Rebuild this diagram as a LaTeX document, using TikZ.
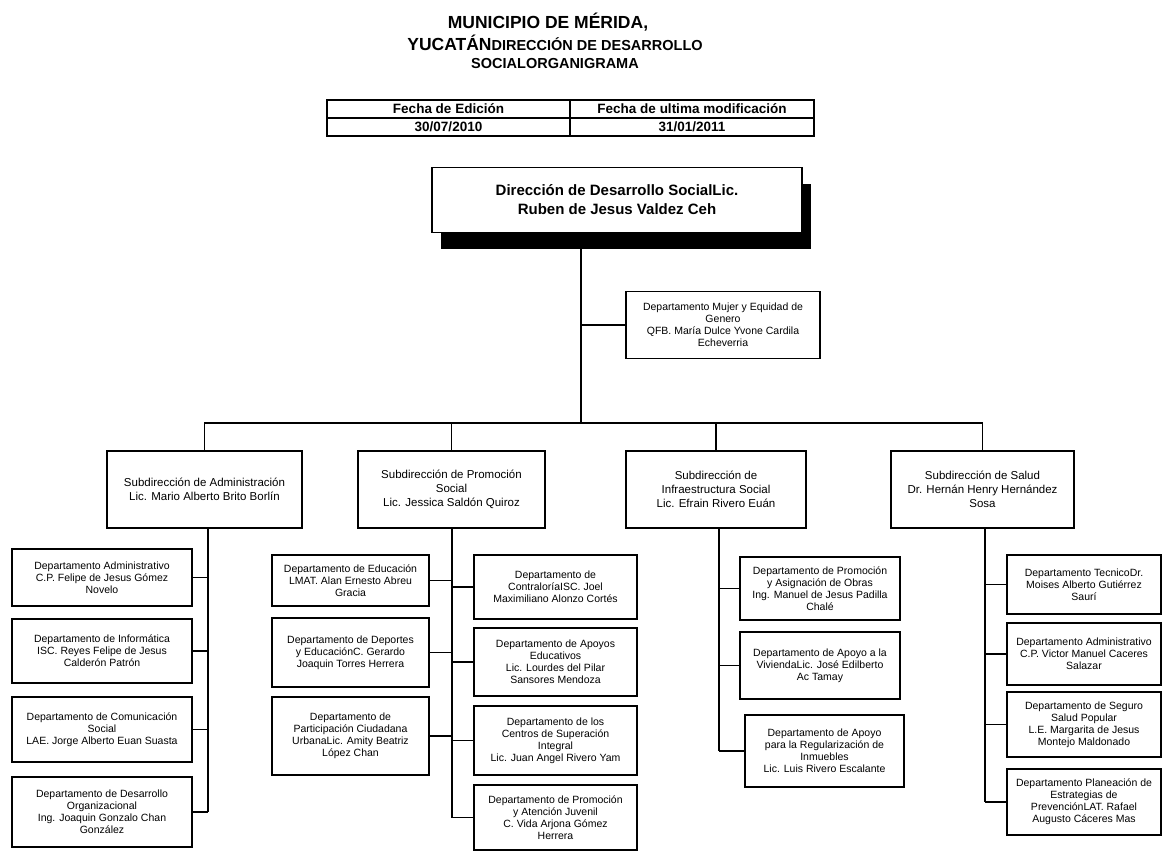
\documentclass[tikz,border=0pt]{standalone}
\usepackage{fontspec}
\setmainfont{Liberation Sans}
\usetikzlibrary{shadows}

\begin{document}
\begin{tikzpicture}[x=1pt,y=-1pt,
  linea/.style={line width=1.2pt},
  celda/.style={draw, line width=1.3pt, inner sep=0pt, font=\fontsize{13.5}{15}\selectfont\bfseries},
  subdir/.style={draw, line width=1.4pt, align=center, inner sep=2pt, minimum height=77, font=\fontsize{11.5}{14}\selectfont},
  depto/.style={draw, line width=1.4pt, align=center, inner sep=1pt, font=\fontsize{10.5}{12}\selectfont}]
        \useasboundingbox (0,0) rectangle (1164,854);

        % titulo
        \node[font=\fontsize{17.5}{21}\selectfont\bfseries] (tit1) at (548,22) {MUNICIPIO DE MÉRIDA,};
        \node[font=\bfseries] (tit2) at (555,43) {{\fontsize{17.5}{21}\selectfont YUCATÁN}{\fontsize{14.5}{21}\selectfont DIRECCIÓN DE DESARROLLO}};
        \node[font=\fontsize{14.5}{21}\selectfont\bfseries] (tit3) at (555,64) {SOCIALORGANIGRAMA};

        % fechas
        \node[celda, minimum width=243, minimum height=18] (f1) at (448.5,109) {Fecha de Edición};
        \node[celda, minimum width=244, minimum height=18] (f2) at (692,109) {Fecha de ultima modificación};
        \node[celda, minimum width=243, minimum height=18] (d1) at (448.5,127) {30/07/2010};
        \node[celda, minimum width=244, minimum height=18] (d2) at (692,127) {31/01/2011};

        % direccion
        \node[draw, line width=1.4pt, fill=white, minimum width=370, minimum height=65, align=center,
              font=\fontsize{15}{19}\selectfont\bfseries,
              drop shadow={shadow xshift=9pt, shadow yshift=-16pt, fill=black, opacity=1}]
              (dir) at (617,200) {Dirección de Desarrollo SocialLic.\\Ruben de Jesus Valdez Ceh};
        \coordinate (bus) at (581,423);
        \draw[linea] (bus |- dir.south) -- (bus);

        \node[depto, minimum width=194, minimum height=67] (mujer) at (723,325) {Departamento Mujer y Equidad de\\Genero\\QFB. María Dulce Yvone Cardila\\Echeverria};
        \draw[linea] (mujer.west) -- (mujer.west -| bus);

        % subdirecciones
        \node[subdir, minimum width=195] (sa) at (204.5,489.5) {Subdirección de Administración\\Lic. Mario Alberto Brito Borlín};
        \node[subdir, minimum width=187] (sp) at (451.5,489.5) {Subdirección de Promoción\\Social\\Lic. Jessica Saldón Quiroz};
        \node[subdir, minimum width=180] (si) at (716,489.5) {Subdirección de\\Infraestructura Social\\Lic. Efrain Rivero Euán};
        \node[subdir, minimum width=183] (ss) at (982.5,489.5) {Subdirección de Salud\\Dr. Hernán Henry Hernández\\Sosa};

        \draw[linea] (sa.north) -- (sa.north |- bus) -- (ss.north |- bus) -- (ss.north);
        \draw[linea] (sp.north) -- (sp.north |- bus);
        \draw[linea] (si.north) -- (si.north |- bus);

        % administracion
        \node[depto, minimum width=180, minimum height=57] (a1) at (102,577.5) {Departamento Administrativo\\C.P. Felipe de Jesus Gómez\\Novelo};
        \node[depto, minimum width=180, minimum height=64] (a2) at (102,651) {Departamento de Informática\\ISC. Reyes Felipe de Jesus\\Calderón Patrón};
        \node[depto, minimum width=180, minimum height=65] (a3) at (102,729.5) {Departamento de Comunicación\\Social\\LAE. Jorge Alberto Euan Suasta};
        \node[depto, minimum width=180, minimum height=70] (a4) at (102,812) {Departamento de Desarrollo\\Organizacional\\Ing. Joaquin Gonzalo Chan\\González};
        \coordinate (ta) at (208,528);
        \draw[linea] (ta) -- (ta |- a4.east);
        \foreach \d in {a1,a2,a3,a4} \draw[linea] (\d.east) -- (\d.east -| ta);

        % promocion social
        \node[depto, minimum width=157, minimum height=51] (p1) at (350.5,580.5) {Departamento de Educación\\LMAT. Alan Ernesto Abreu\\Gracia};
        \node[depto, minimum width=157, minimum height=69] (p2) at (350.5,652.5) {Departamento de Deportes\\y EducaciónC. Gerardo\\Joaquin Torres Herrera};
        \node[depto, minimum width=157, minimum height=78] (p3) at (350.5,736) {Departamento de\\Participación Ciudadana\\UrbanaLic. Amity Beatriz\\López Chan};
        \node[depto, minimum width=163, minimum height=64] (p4) at (555.5,587) {Departamento de\\ContraloríaISC. Joel\\Maximiliano Alonzo Cortés};
        \node[depto, minimum width=163, minimum height=68] (p5) at (555.5,662) {Departamento de Apoyos\\Educativos\\Lic. Lourdes del Pilar\\Sansores Mendoza};
        \node[depto, minimum width=163, minimum height=69] (p6) at (555.5,740.5) {Departamento de los\\Centros de Superación\\Integral\\Lic. Juan Angel Rivero Yam};
        \node[depto, minimum width=163, minimum height=65] (p7) at (555.5,817.5) {Departamento de Promoción\\y Atención Juvenil\\C. Vida Arjona Gómez\\Herrera};
        \coordinate (tp) at (452,528);
        \draw[linea] (tp) -- (tp |- p7.west);
        \foreach \d in {p1,p2,p3} \draw[linea] (\d.east) -- (\d.east -| tp);
        \foreach \d in {p4,p5,p6,p7} \draw[linea] (\d.west) -- (\d.west -| tp);

        % infraestructura
        \node[depto, minimum width=160, minimum height=63] (i1) at (820,588.5) {Departamento de Promoción\\y Asignación de Obras\\Ing. Manuel de Jesus Padilla\\Chalé};
        \node[depto, minimum width=160, minimum height=67] (i2) at (820,665.5) {Departamento de Apoyo a la\\ViviendaLic. José Edilberto\\Ac Tamay};
        \node[depto, minimum width=159, minimum height=72] (i3) at (824.5,751) {Departamento de Apoyo\\para la Regularización de\\Inmuebles\\Lic. Luis Rivero Escalante};
        \coordinate (ti) at (719,528);
        \draw[linea] (ti) -- (ti |- i3.west);
        \foreach \d in {i1,i2,i3} \draw[linea] (\d.west) -- (\d.west -| ti);

        % salud
        \node[depto, minimum width=154, minimum height=59] (s1) at (1084,584.5) {Departamento TecnicoDr.\\Moises Alberto Gutiérrez\\Saurí};
        \node[depto, minimum width=154, minimum height=62] (s2) at (1084,654) {Departamento Administrativo\\C.P. Victor Manuel Caceres\\Salazar};
        \node[depto, minimum width=154, minimum height=65] (s3) at (1084,724.5) {Departamento de Seguro\\Salud Popular\\L.E. Margarita de Jesus\\Montejo Maldonado};
        \node[depto, minimum width=154, minimum height=66] (s4) at (1084,802) {Departamento Planeación de\\Estrategias de\\PrevenciónLAT. Rafael\\Augusto Cáceres Mas};
        \coordinate (ts) at (985,528);
        \draw[linea] (ts) -- (ts |- s4.west);
        \foreach \d in {s1,s2,s3,s4} \draw[linea] (\d.west) -- (\d.west -| ts);
\end{tikzpicture}
\end{document}
